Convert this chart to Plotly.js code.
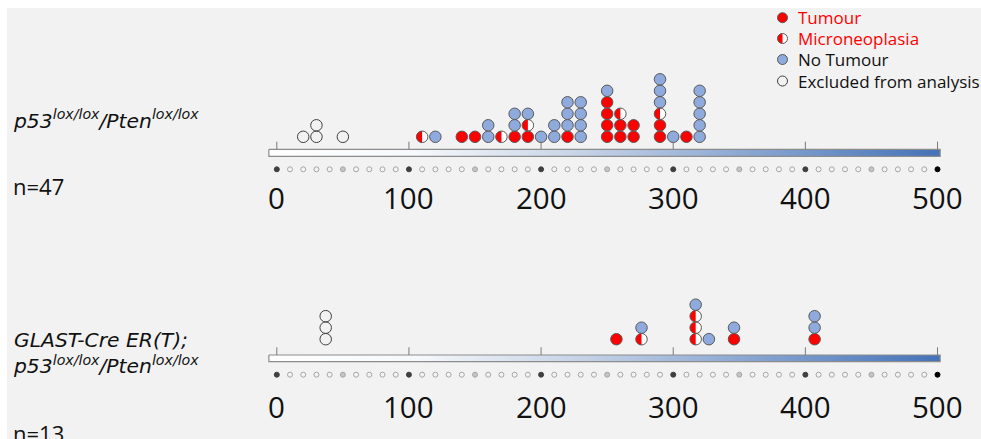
<!DOCTYPE html>
<html><head><meta charset="utf-8">
<script src="https://cdn.plot.ly/plotly-3.0.1.min.js"></script>
<style>html,body{margin:0;padding:0;background:#fff}#chart{width:981px;height:439px}</style>
</head><body><div id="chart"></div>
<script>
// ---------------- data ----------------
const groupLabels = ['<i>p53<sup>lox/lox</sup>/Pten<sup>lox/lox</sup></i>',
                     '<i>GLAST-Cre ER(T);</i><br><i>p53<sup>lox/lox</sup>/Pten<sup>lox/lox</sup></i>'];
const countLabels = ['n=47', 'n=13'];
const tickValues = [0, 100, 200, 300, 400, 500];
const tickLabels = ['0', '100', '200', '300', '400', '500'];
const legendLabels = ['Tumour', 'Microneoplasia', 'No Tumour', 'Excluded from analysis'];

// panel 1: p53/Pten (time of each animal, by outcome)
const p1Tumour   = [140, 150, 180, 190, 220, 250, 250, 250, 250, 260, 260, 270, 270, 290, 290, 310];
const p1Micro    = [110, 170, 190, 260, 290];
const p1None     = [120, 160, 160, 180, 180, 190, 200, 210, 210, 220, 220, 220, 230, 230, 230, 230,
                    250, 290, 290, 290, 300, 320, 320, 320, 320, 320];
const p1Excluded = [20, 30, 30, 50];

// panel 2: GLAST-Cre ER(T); p53/Pten
const p2Tumour   = [257, 346, 407];
const p2Micro    = [276, 317, 317, 317];
const p2None     = [276, 317, 327, 346, 407, 407];
const p2Excluded = [37, 37, 37];

// ---------------- layout constants ----------------
const W = 981, H = 439;
const X0PX = 276.8, PXU = 1.3214;      // pixel of value 0, pixels per unit
const STEP = 11.5;                      // vertical stacking step (px)
const MS = 11.5;                        // marker size
const DOT_STEP = 10;                    // minor dot spacing on the scale
const RED = '#ff0000', BLUE = '#8faadc', EDGE = '#595959';
const LABEL_FONT = 'DejaVu Sans';
const yu = px => (H - px) / STEP;
const xRange = [-X0PX / PXU, (W - X0PX) / PXU];

const panels = [
  {tumour: p1Tumour, micro: p1Micro, none: p1None, excl: p1Excluded,
   base: 136.8, barTop: 149.3, barBot: 156.3, tickTop: 141.7, dotsY: 169.3, labelY: 197,
   gY: 119, nY: 186},
  {tumour: p2Tumour, micro: p2Micro, none: p2None, excl: p2Excluded,
   base: 339.2, barTop: 355.0, barBot: 361.7, tickTop: 347.3, dotsY: 374.7, labelY: 406,
   gY: 352.5, nY: 433}
];

function halfPath(r) {
  const k = 0.5523 * r;
  return `M0,${r} C${-k},${r} ${-r},${k} ${-r},0 C${-r},${-k} ${-k},${-r} 0,${-r} Z`;
}
function pxCircle(xref, yref, x, y, r, fill, line, lw, layer) {
  return {type: 'circle', xref, yref, xsizemode: 'pixel', ysizemode: 'pixel',
    xanchor: x, yanchor: y, x0: -r, x1: r, y0: -r, y1: r,
    fillcolor: fill, line: {color: line, width: lw}, layer};
}
function pxHalf(xref, yref, x, y, r, layer) {
  return {type: 'path', xref, yref, xsizemode: 'pixel', ysizemode: 'pixel',
    xanchor: x, yanchor: y, path: halfPath(r), fillcolor: RED, line: {width: 0}, layer};
}

const traces = [], shapes = [], annotations = [];

panels.forEach((p, pi) => {
  const baseU = yu(p.base);
  // scale bar with gradient
  const bx0 = -6, bx1 = 502, bt = yu(p.barTop), bb = yu(p.barBot);
  traces.push({type: 'scatter', mode: 'lines', x: [bx0, bx1, bx1, bx0, bx0], y: [bt, bt, bb, bb, bt],
    fill: 'toself', line: {color: '#8c8c8c', width: 1.2},
    fillgradient: {type: 'horizontal', colorscale: [[0, '#ffffff'], [0.22, '#f6f8fb'], [0.45, '#c9d5e8'],
      [0.7, '#8da9d3'], [1, '#4472b8']]}, hoverinfo: 'skip'});
  // tick lines above bar
  tickValues.forEach(t => shapes.push({type: 'line', xref: 'x', yref: 'y', x0: t, x1: t,
    y0: bt, y1: yu(p.tickTop), line: {color: '#7a7a7a', width: 1}, layer: 'above'}));
  // minor dots row
  const dx = [], dfill = [], dline = [];
  for (let v = tickValues[0]; v <= tickValues[tickValues.length - 1]; v += DOT_STEP) {
    dx.push(v);
    if (v === 500) { dfill.push('#000000'); dline.push('#000000'); }
    else if (v % 100 === 0) { dfill.push('#404040'); dline.push('#404040'); }
    else if (v % 50 === 0) { dfill.push('#c4c4c4'); dline.push('#a6a6a6'); }
    else { dfill.push('#f4f4f4'); dline.push('#a6a6a6'); }
  }
  traces.push({type: 'scatter', mode: 'markers', x: dx, y: dx.map(() => yu(p.dotsY)),
    marker: {size: 5, color: dfill, line: {color: dline, width: 1}}, hoverinfo: 'skip'});
  // tick labels
  tickValues.forEach((t, i) => annotations.push({xref: 'x', yref: 'y', x: t, y: yu(p.labelY),
    text: tickLabels[i], showarrow: false, xanchor: 'center', yanchor: 'middle',
    font: {family: 'Open Sans', size: 29.5, color: '#111'}}));

  // stacking: tumour, then micro, then no tumour in each column
  const level = {};
  const place = (vals) => vals.map(v => { const k = level[v] || 0; level[v] = k + 1; return baseU + k; });
  const tY = place(p.tumour), mY = place(p.micro), nY = place(p.none);
  const exLevel = {};
  const eY = p.excl.map(v => { const k = exLevel[v] || 0; exLevel[v] = k + 1; return baseU + k; });

  traces.push({type: 'scatter', mode: 'markers', x: p.excl, y: eY,
    marker: {size: MS, color: 'rgba(0,0,0,0)', line: {color: '#404040', width: 1}}});
  traces.push({type: 'scatter', mode: 'markers', x: p.tumour, y: tY,
    marker: {size: MS, color: RED, line: {color: EDGE, width: 1}}});
  traces.push({type: 'scatter', mode: 'markers', x: p.none, y: nY,
    marker: {size: MS, color: BLUE, line: {color: EDGE, width: 1}}});
  p.micro.forEach((v, i) => {
    shapes.push(pxCircle('x', 'y', v, mY[i], MS / 2, '#ffffff', 'rgba(0,0,0,0)', 0, 'below'));
    shapes.push(pxHalf('x', 'y', v, mY[i], MS / 2, 'below'));
  });
  traces.push({type: 'scatter', mode: 'markers', x: p.micro, y: mY,
    marker: {size: MS, color: 'rgba(0,0,0,0)', line: {color: EDGE, width: 1}}});

  // group labels
  annotations.push({xref: 'paper', yref: 'paper', x: 11 / W, y: 1 - p.gY / H, text: groupLabels[pi],
    showarrow: false, xanchor: 'left', yanchor: 'middle', align: 'left',
    font: {family: LABEL_FONT, size: 20.3, color: '#111'}});
  annotations.push({xref: 'paper', yref: 'paper', x: 11 / W, y: 1 - p.nY / H, text: countLabels[pi],
    showarrow: false, xanchor: 'left', yanchor: 'middle', font: {family: 'Open Sans', size: 22, color: '#111'}});
});

// legend
const legY = [17.7, 38.5, 59.5, 81], legX = 782.5, legR = 5;
const legColors = [RED, RED, '#111', '#111'];
const lx = legX / W;
shapes.push(pxCircle('paper', 'paper', lx, 1 - legY[0] / H, legR, RED, EDGE, 1, 'above'));
shapes.push(pxCircle('paper', 'paper', lx, 1 - legY[1] / H, legR, '#ffffff', 'rgba(0,0,0,0)', 0, 'above'));
shapes.push(pxHalf('paper', 'paper', lx, 1 - legY[1] / H, legR, 'above'));
shapes.push(pxCircle('paper', 'paper', lx, 1 - legY[1] / H, legR, 'rgba(0,0,0,0)', EDGE, 1, 'above'));
shapes.push(pxCircle('paper', 'paper', lx, 1 - legY[2] / H, legR, BLUE, EDGE, 1, 'above'));
shapes.push(pxCircle('paper', 'paper', lx, 1 - legY[3] / H, legR, 'rgba(0,0,0,0)', '#404040', 1, 'above'));
legendLabels.forEach((t, i) => annotations.push({xref: 'paper', yref: 'paper', x: 796 / W, y: 1 - legY[i] / H,
  text: t, showarrow: false, xanchor: 'left', yanchor: 'middle',
  font: {family: 'Open Sans', size: 17, color: legColors[i]}}));

// white frame strips at top and left
shapes.push({type: 'rect', xref: 'paper', yref: 'paper', x0: 0, x1: 1, y0: 1 - 8 / H, y1: 1.01,
  fillcolor: '#ffffff', line: {width: 0}, layer: 'above'});
shapes.push({type: 'rect', xref: 'paper', yref: 'paper', x0: -0.01, x1: 7 / W, y0: -0.01, y1: 1.01,
  fillcolor: '#ffffff', line: {width: 0}, layer: 'above'});

const layout = {
  width: W, height: H, margin: {l: 0, r: 0, t: 0, b: 0},
  paper_bgcolor: '#f2f2f2', plot_bgcolor: '#f2f2f2', showlegend: false,
  xaxis: {range: xRange, visible: false, fixedrange: true},
  yaxis: {range: [0, H / STEP], visible: false, fixedrange: true},
  shapes, annotations
};
Plotly.newPlot('chart', traces, layout, {staticPlot: true, displayModeBar: false});
</script>
</body></html>
